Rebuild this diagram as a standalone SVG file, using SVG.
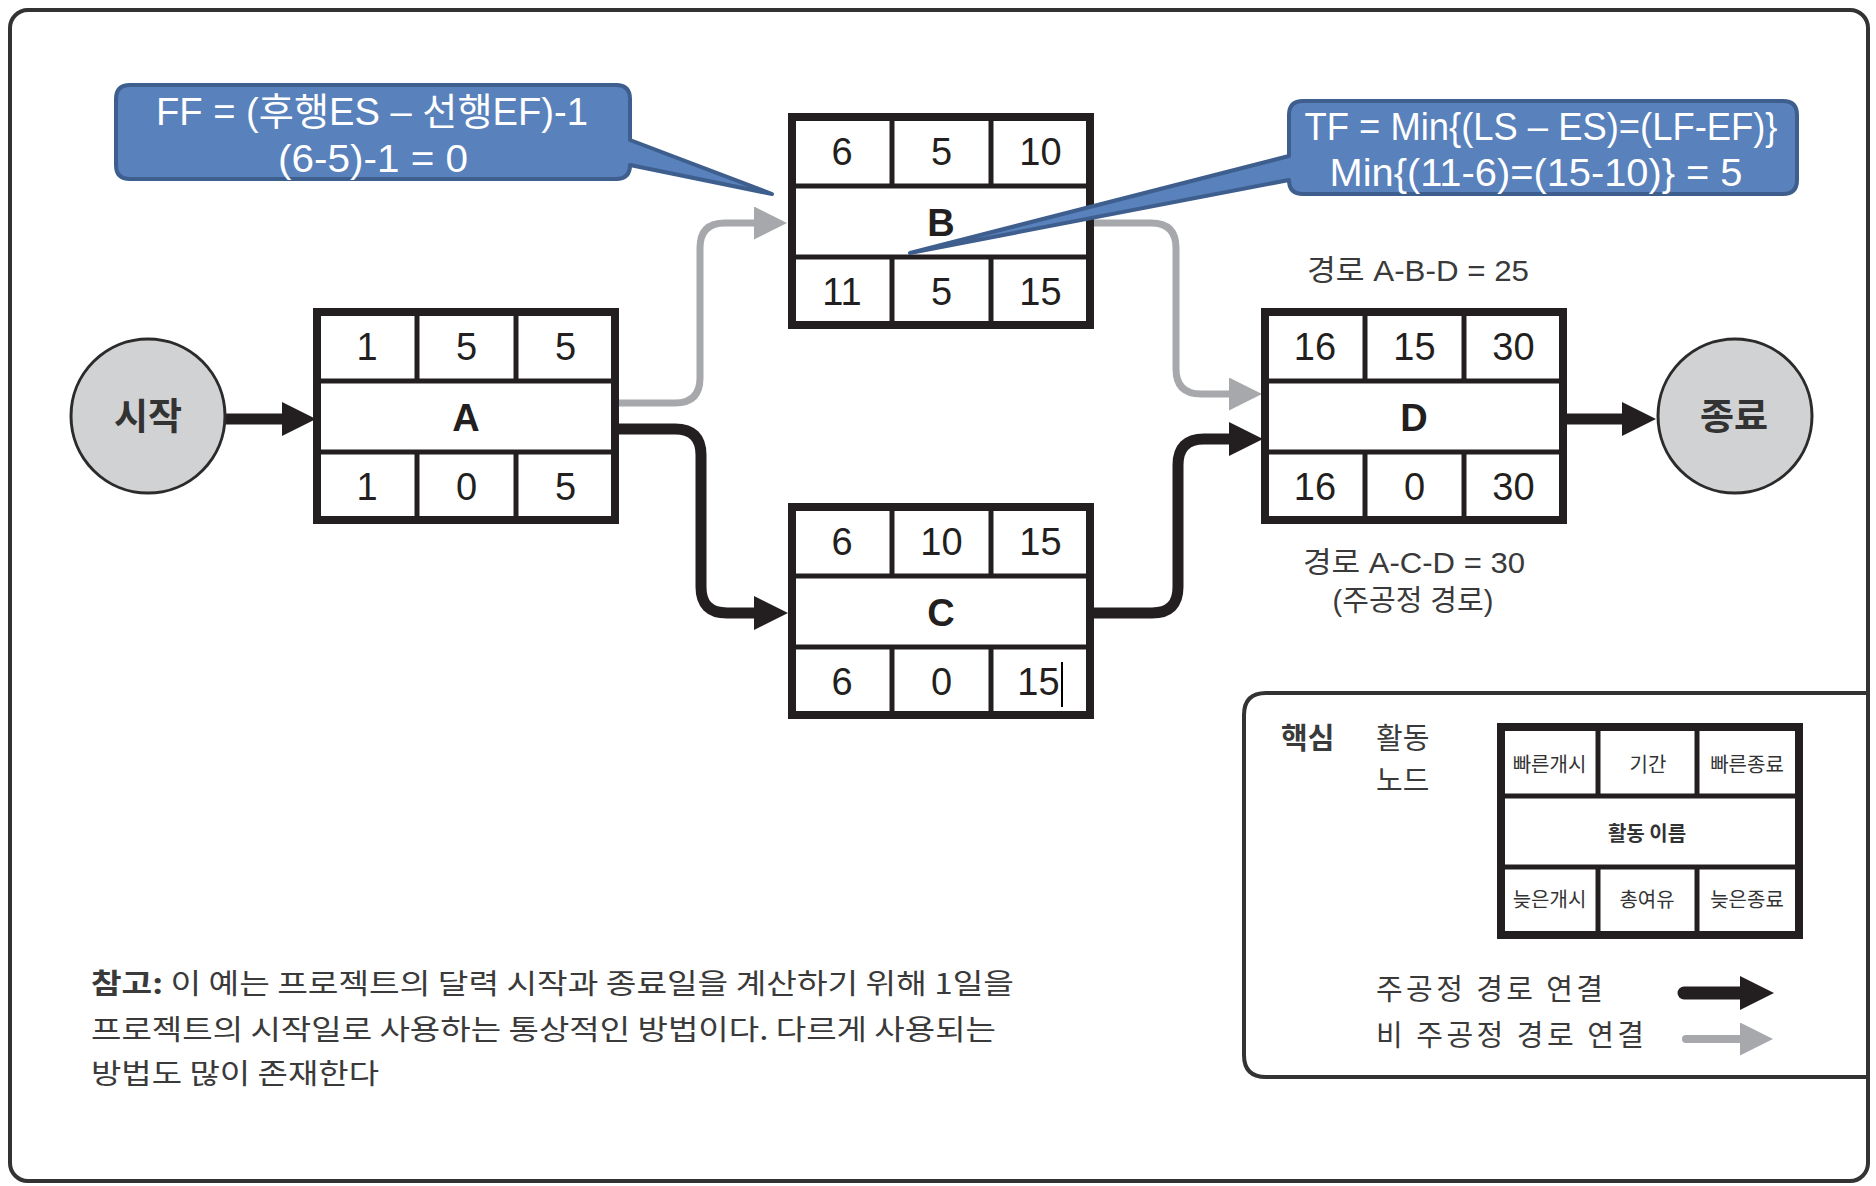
<svg xmlns="http://www.w3.org/2000/svg" width="1876" height="1186" viewBox="0 0 1876 1186">
<style>
.frame{fill:none;stroke:#333333;stroke-width:4}
.nb{fill:#ffffff;stroke:#231f20;stroke-width:8}
.nl{stroke:#231f20;stroke-width:5}
.num{font-family:"Liberation Sans","Noto Sans CJK KR",sans-serif;font-size:38px;fill:#231f20;text-anchor:middle}
.let{font-family:"Liberation Sans","Noto Sans CJK KR",sans-serif;font-size:38px;font-weight:bold;fill:#231f20;text-anchor:middle}
.circ{fill:#d1d2d4;stroke:#2b2b2b;stroke-width:3}
.ctext{font-family:"Noto Sans CJK KR",sans-serif;font-size:37px;font-weight:bold;fill:#333333;text-anchor:middle}
.crit{fill:none;stroke:#231f20;stroke-width:11}
.non{fill:none;stroke:#a6a8ab;stroke-width:7}
.call{fill:#5981bc;stroke:#3e5e8e;stroke-width:4;stroke-linejoin:round}
.ctx{font-family:"Liberation Sans","Noto Sans CJK KR",sans-serif;font-size:38px;fill:#ffffff;text-anchor:middle}
.path{font-family:"Liberation Sans","Noto Sans CJK KR",sans-serif;font-size:29px;fill:#3a3a3a;text-anchor:middle}
.note{font-family:"Noto Sans CJK KR",sans-serif;font-size:28px;fill:#3a3a3a}
.lg{font-family:"Noto Sans CJK KR",sans-serif;font-size:29px;fill:#3a3a3a}
.lc{font-family:"Noto Sans CJK KR",sans-serif;font-size:20px;fill:#333333;text-anchor:middle}
</style>
<defs>
<marker id="ahB" markerUnits="userSpaceOnUse" markerWidth="34" markerHeight="34" viewBox="0 0 34 34" refX="0" refY="17" orient="auto"><path d="M0,0 L34,17 L0,34 Z" fill="#231f20"/></marker>
<marker id="ahG" markerUnits="userSpaceOnUse" markerWidth="33" markerHeight="33" viewBox="0 0 33 33" refX="0" refY="16.5" orient="auto"><path d="M0,0 L33,16.5 L0,33 Z" fill="#a6a8ab"/></marker>
</defs>
<rect x="0" y="0" width="1876" height="1186" fill="#ffffff"/>
<rect class="frame" x="10" y="10" width="1858" height="1171" rx="18"/>

<g id="connectors">
<path class="crit" d="M226 419 H282" marker-end="url(#ahB)"/>
<path class="crit" d="M619 429 H675 Q701 429 701 455 V587 Q701 613 727 613 H754" marker-end="url(#ahB)"/>
<path class="crit" d="M1093 613 H1152 Q1178 613 1178 587 V465 Q1178 439 1204 439 H1229" marker-end="url(#ahB)"/>
<path class="non" d="M619 403 H675 Q700 403 700 378 V248 Q700 223 725 223 H754" marker-end="url(#ahG)"/>
<path class="non" d="M1093 223 H1151 Q1176 223 1176 248 V369 Q1176 394 1201 394 H1229" marker-end="url(#ahG)"/>
<path class="crit" d="M1567 419 H1622" marker-end="url(#ahB)"/>
</g>

<g id="start">
<circle class="circ" cx="148" cy="416" r="77"/>
<text class="ctext" x="148" y="430">시작</text>
</g>
<g id="end">
<circle class="circ" cx="1735" cy="416" r="77"/>
<text class="ctext" x="1734" y="430">종료</text>
</g>

<g id="node-A" transform="translate(317,312)">
<rect class="nb" x="0" y="0" width="298" height="208"/>
<line class="nl" x1="0" y1="69" x2="298" y2="69"/><line class="nl" x1="0" y1="140" x2="298" y2="140"/>
<line class="nl" x1="100" y1="0" x2="100" y2="69"/><line class="nl" x1="199" y1="0" x2="199" y2="69"/>
<line class="nl" x1="100" y1="140" x2="100" y2="208"/><line class="nl" x1="199" y1="140" x2="199" y2="208"/>
<text class="num" x="50" y="48">1</text><text class="num" x="149.5" y="48">5</text><text class="num" x="248.5" y="48">5</text>
<text class="let" x="149" y="118.5">A</text>
<text class="num" x="50" y="187.5">1</text><text class="num" x="149.5" y="187.5">0</text><text class="num" x="248.5" y="187.5">5</text>
</g>

<g id="node-B" transform="translate(792,117)">
<rect class="nb" x="0" y="0" width="298" height="208"/>
<line class="nl" x1="0" y1="69" x2="298" y2="69"/><line class="nl" x1="0" y1="140" x2="298" y2="140"/>
<line class="nl" x1="100" y1="0" x2="100" y2="69"/><line class="nl" x1="199" y1="0" x2="199" y2="69"/>
<line class="nl" x1="100" y1="140" x2="100" y2="208"/><line class="nl" x1="199" y1="140" x2="199" y2="208"/>
<text class="num" x="50" y="48">6</text><text class="num" x="149.5" y="48">5</text><text class="num" x="248.5" y="48">10</text>
<text class="let" x="149" y="118.5">B</text>
<text class="num" x="50" y="187.5">11</text><text class="num" x="149.5" y="187.5">5</text><text class="num" x="248.5" y="187.5">15</text>
</g>

<g id="node-C" transform="translate(792,507)">
<rect class="nb" x="0" y="0" width="298" height="208"/>
<line class="nl" x1="0" y1="69" x2="298" y2="69"/><line class="nl" x1="0" y1="140" x2="298" y2="140"/>
<line class="nl" x1="100" y1="0" x2="100" y2="69"/><line class="nl" x1="199" y1="0" x2="199" y2="69"/>
<line class="nl" x1="100" y1="140" x2="100" y2="208"/><line class="nl" x1="199" y1="140" x2="199" y2="208"/>
<text class="num" x="50" y="48">6</text><text class="num" x="149.5" y="48">10</text><text class="num" x="248.5" y="48">15</text>
<text class="let" x="149" y="118.5">C</text>
<text class="num" x="50" y="187.5">6</text><text class="num" x="149.5" y="187.5">0</text><text class="num" x="246.5" y="187.5">15</text>
<line x1="270" y1="155" x2="270" y2="200" stroke="#000000" stroke-width="2"/>
</g>

<g id="node-D" transform="translate(1265,312)">
<rect class="nb" x="0" y="0" width="298" height="208"/>
<line class="nl" x1="0" y1="69" x2="298" y2="69"/><line class="nl" x1="0" y1="140" x2="298" y2="140"/>
<line class="nl" x1="100" y1="0" x2="100" y2="69"/><line class="nl" x1="199" y1="0" x2="199" y2="69"/>
<line class="nl" x1="100" y1="140" x2="100" y2="208"/><line class="nl" x1="199" y1="140" x2="199" y2="208"/>
<text class="num" x="50" y="48">16</text><text class="num" x="149.5" y="48">15</text><text class="num" x="248.5" y="48">30</text>
<text class="let" x="149" y="118.5">D</text>
<text class="num" x="50" y="187.5">16</text><text class="num" x="149.5" y="187.5">0</text><text class="num" x="248.5" y="187.5">30</text>
</g>

<g id="callout-FF">
<path class="call" d="M130 85 H616 Q630 85 630 99 V140 L772 194 L630 165 Q630 179 616 179 H130 Q116 179 116 165 V99 Q116 85 130 85 Z"/>
<text class="ctx" x="372" y="125" textLength="432" lengthAdjust="spacingAndGlyphs">FF = (후행ES – 선행EF)-1</text>
<text class="ctx" x="373" y="172" textLength="190" lengthAdjust="spacingAndGlyphs">(6-5)-1 = 0</text>
</g>

<g id="callout-TF">
<path class="call" d="M1303 101 H1783 Q1797 101 1797 115 V180 Q1797 194 1783 194 H1303 Q1289 194 1289 180 L910 253 L1289 156 V115 Q1289 101 1303 101 Z"/>
<text class="ctx" x="1541" y="140" textLength="473" lengthAdjust="spacingAndGlyphs">TF = Min{(LS – ES)=(LF-EF)}</text>
<text class="ctx" x="1536" y="186" textLength="413" lengthAdjust="spacingAndGlyphs">Min{(11-6)=(15-10)} = 5</text>
</g>

<g id="path-labels">
<text class="path" x="1418" y="281" textLength="222" lengthAdjust="spacingAndGlyphs">경로 A-B-D = 25</text>
<text class="path" x="1414" y="573" textLength="222" lengthAdjust="spacingAndGlyphs">경로 A-C-D = 30</text>
<text class="path" x="1413" y="611">(주공정 경로)</text>
</g>

<g id="note">
<text class="note" x="91" y="994" textLength="923" lengthAdjust="spacingAndGlyphs"><tspan font-weight="bold">참고:</tspan> 이 예는 프로젝트의 달력 시작과 종료일을 계산하기 위해 1일을</text>
<text class="note" x="91" y="1040" textLength="905" lengthAdjust="spacingAndGlyphs">프로젝트의 시작일로 사용하는 통상적인 방법이다. 다르게 사용되는</text>
<text class="note" x="91" y="1084" textLength="288" lengthAdjust="spacingAndGlyphs">방법도 많이 존재한다</text>
</g>

<g id="legend">
<path class="frame" d="M1868 693 H1266 Q1244 693 1244 715 V1055 Q1244 1077 1266 1077 H1868"/>
<text class="lg" x="1281" y="749" font-weight="bold" font-size="28">핵심</text>
<text class="lg" x="1376" y="749">활동</text>
<text class="lg" x="1376" y="791">노드</text>
<g id="legend-node" transform="translate(1501,727)">
<rect class="nb" x="0" y="0" width="298" height="208"/>
<line class="nl" x1="0" y1="69" x2="298" y2="69"/><line class="nl" x1="0" y1="140" x2="298" y2="140"/>
<line class="nl" x1="97" y1="0" x2="97" y2="69"/><line class="nl" x1="196" y1="0" x2="196" y2="69"/>
<line class="nl" x1="97" y1="140" x2="97" y2="208"/><line class="nl" x1="196" y1="140" x2="196" y2="208"/>
<text class="lc" x="48.5" y="45">빠른개시</text><text class="lc" x="147" y="45">기간</text><text class="lc" x="246" y="45">빠른종료</text>
<text class="lc" x="146" y="113.5" font-weight="bold">활동 이름</text>
<text class="lc" x="48.5" y="179.5">늦은개시</text><text class="lc" x="146" y="179.5">총여유</text><text class="lc" x="246" y="179.5">늦은종료</text>
</g>
<text class="lg" x="1376" y="1000" textLength="227" lengthAdjust="spacing">주공정 경로 연결</text>
<text class="lg" x="1376" y="1046" textLength="268" lengthAdjust="spacing">비 주공정 경로 연결</text>
<path d="M1684 993 H1740" stroke="#231f20" stroke-width="13" stroke-linecap="round" fill="none" marker-end="url(#ahB)"/>
<path d="M1686 1039 H1740" stroke="#a6a8ab" stroke-width="8" stroke-linecap="round" fill="none" marker-end="url(#ahG)"/>
</g>
</svg>
